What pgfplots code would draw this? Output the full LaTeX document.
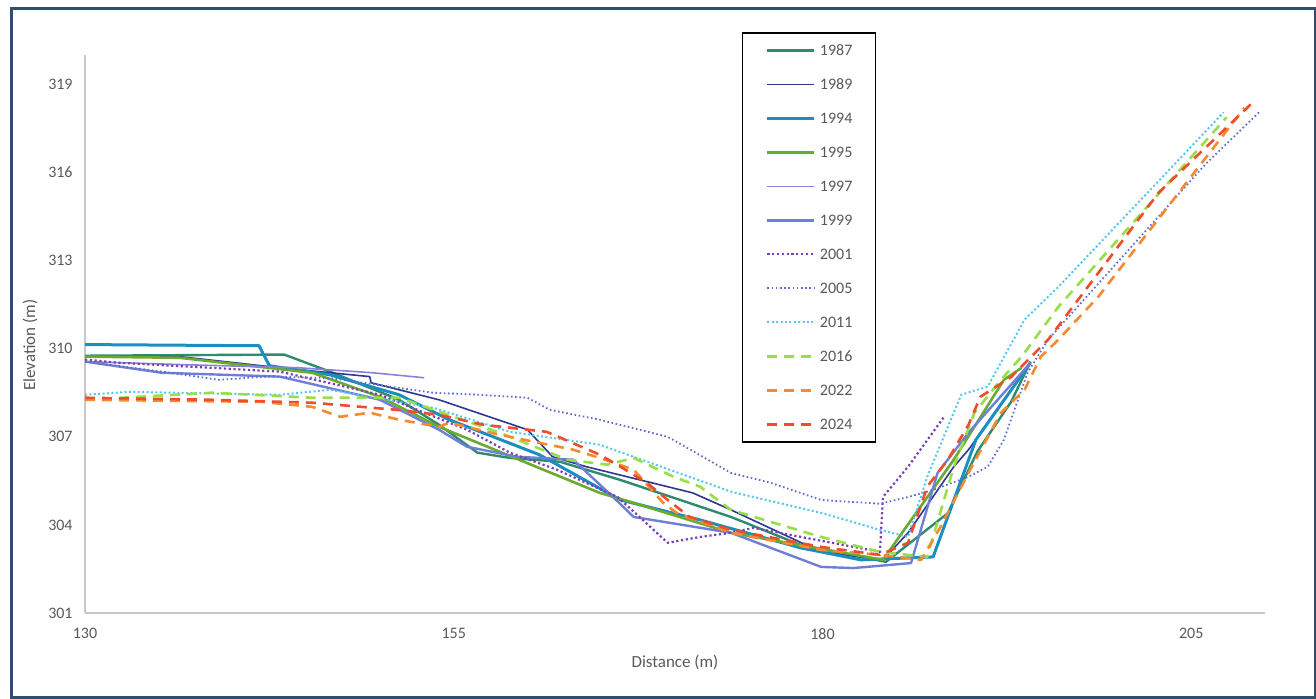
\documentclass[border=0pt]{standalone}
\usepackage{fontspec}
\setmainfont{Carlito}
\usepackage{pgfplots}
\pgfplotsset{compat=1.18}

\definecolor{frame}{HTML}{2F4F6E}
\definecolor{axgray}{HTML}{C8C8C8}
\definecolor{tickgray}{HTML}{595959}
\definecolor{c87}{HTML}{2E8C6E}
\definecolor{c89}{HTML}{2B3990}
\definecolor{c94}{HTML}{1B8EC0}
\definecolor{c95}{HTML}{6AAB2F}
\definecolor{c97}{HTML}{8A7FDB}
\definecolor{c99}{HTML}{6E7FD8}
\definecolor{c01}{HTML}{7B3FB5}
\definecolor{c05}{HTML}{5E6ECF}
\definecolor{c11}{HTML}{57C5F0}
\definecolor{c16}{HTML}{98DE48}
\definecolor{c22}{HTML}{F68A2E}
\definecolor{c24}{HTML}{F04D2D}

\begin{document}
\begin{tikzpicture}
\useasboundingbox (0,0) rectangle (658pt,-349.5pt);
\draw[line width=1.5pt, frame] (5.5pt,-4.5pt) rectangle (657.5pt,-348.5pt);

\begin{axis}[
  at={(42.5pt,-306.5pt)}, anchor=south west,
  scale only axis, width=590pt, height=279pt,
  xmin=130, xmax=210, ymin=301, ymax=320,
  xtick={130,155,180,205},
  ytick={301,304,...,319},
  axis x line*=bottom, axis y line*=left,
  axis line style={-, draw=axgray, line width=1pt},
  major tick length=0pt,
  /pgf/number format/assume math mode=true,
  ticklabel style={font=\fontsize{8}{9.6}\selectfont, text=tickgray, inner sep=0pt},
  yticklabel style={xshift=-6pt},
  xticklabel style={yshift=-7.5pt},
  xlabel={Distance (m)}, ylabel={Elevation (m)},
  label style={font=\fontsize{8.5}{10}\selectfont, text=tickgray},
  xlabel style={at={(axis description cs:0.5,-0.0878)}, anchor=center},
  ylabel style={at={(axis description cs:-0.0466,0.48)}, anchor=center},
  no markers,
  every axis plot/.append style={line join=round},
  legend cell align=left,
  legend style={at={(axis description cs:0.5568,1.041)}, anchor=north west,
    draw=black, line width=0.7pt, inner xsep=11.6pt, inner ysep=6.25pt,
    row sep=12pt, column sep=2pt, text=tickgray,
    font=\fontsize{8}{9.6}\selectfont,
    nodes={inner sep=0pt, text height=5pt, text depth=0pt}},
  legend image code/.code={\draw[#1] (0pt,0pt) -- (23.5pt,0pt);},
]

% 1987
\addplot[c87, line width=1.2pt] coordinates {
 (130,309.76) (143.5,309.8) (146.6,309.22) (151.3,308.26) (154.0,307.41)
 (156.6,306.46) (158.8,306.28) (162.2,306.15) (166.3,305.53) (173.8,304.27)
 (178.5,303.32) (184.3,302.74) (188.5,304.4) (190.5,306.5) (192.8,308.2) (194.1,309.56)
};
\addlegendentry{1987}

% 1989
\addplot[c89, line width=0.8pt] coordinates {
 (130,309.73) (136.4,309.73) (143.2,309.35) (149.3,309.05) (149.4,308.84)
 (154.0,308.26) (160.0,307.24) (161.7,306.32) (164.0,305.98) (171.2,305.09)
 (173.8,304.51) (179.9,303.08) (184.1,302.81) (185.8,303.73) (188.9,305.98)
 (189.9,306.56) (194.1,309.52)
};
\addlegendentry{1989}

% 1994
\addplot[c94, line width=1.5pt] coordinates {
 (130,310.14) (141.8,310.10) (142.5,309.42) (146.6,309.11) (151.3,308.43)
 (154.7,307.58) (160.8,306.39) (166.3,304.85) (171.7,304.17) (178.5,303.22)
 (182.6,302.81) (187.5,302.91) (190.4,306.90) (194.1,309.52)
};
\addlegendentry{1994}

% 1995
\addplot[c95, line width=1.3pt] coordinates {
 (130,309.73) (136.4,309.69) (145.4,309.18) (150.0,308.36) (154.0,307.34)
 (164.9,305.09) (167.2,304.75) (173.8,303.73) (184.1,302.81) (188.9,306.22)
 (192.3,308.94) (193.5,309.35)
};
\addlegendentry{1995}

% 1997
\addplot[c97, line width=0.8pt] coordinates {
 (130,309.56) (136.4,309.46) (144.5,309.35) (149.5,309.18) (153.0,309.01)
};
\addlegendentry{1997}

% 1999
\addplot[c99, line width=1.2pt] coordinates {
 (130,309.56) (135.2,309.18) (143.2,309.05) (150.0,308.26) (154.0,307.24)
 (155.9,306.66) (159.3,306.32) (163.1,306.22) (165.8,304.95) (167.2,304.27)
 (173.8,303.73) (179.9,302.57) (182.1,302.53) (186.0,302.70) (187.8,305.77)
 (189.9,307.14) (194.1,309.52)
};
\addlegendentry{1999}

% 2001
\addplot[c01, line width=1.1pt, dash pattern=on 1.1pt off 1.3pt] coordinates {
 (130,309.63) (132.3,309.52) (143.2,309.22) (150.0,308.43) (155.9,307.24)
 (158.8,306.46) (162.0,305.88) (166.1,304.95) (167.6,304.27) (169.5,303.39)
 (171.7,303.59) (173.8,303.73) (175.3,303.90) (183.9,303.08) (184.1,304.95)
 (185.8,305.98) (188.2,307.65)
};
\addlegendentry{2001}

% 2005
\addplot[c05, line width=0.9pt, dash pattern=on 0.8pt off 1.3pt] coordinates {
 (130,309.56) (135.2,309.22) (139.1,308.94) (142.3,309.05) (146.6,309.0)
 (153.6,308.5) (156.8,308.43) (160.0,308.33) (161.5,307.92) (164.9,307.58)
 (169.5,307.0) (173.8,305.77) (176.5,305.43) (179.9,304.85) (183.9,304.72)
 (185.8,304.95) (187.5,305.19) (189.9,305.64) (191.2,305.98) (192.3,306.90)
 (193.9,309.18) (195.3,310.31) (202.3,314.23) (206.0,316.3) (209.6,318.05)
};
\addlegendentry{2005}

% 2011
\addplot[c11, line width=1pt, dash pattern=on 1pt off 1.2pt] coordinates {
 (130,308.43) (133.0,308.53) (143.2,308.43) (146.6,308.6) (153.6,307.99)
 (158.8,307.17) (164.9,306.73) (173.8,305.13) (179.9,304.41) (183.9,303.83)
 (185.8,303.59) (187.1,305.64) (189.4,308.43) (191.2,308.71) (193.7,310.99)
 (196.0,312.11) (207.2,318.05)
};
\addlegendentry{2011}

% 2016
\addplot[c16, line width=1.3pt, dash pattern=on 5pt off 3.5pt] coordinates {
 (130,308.26) (138.6,308.5) (145.4,308.33) (151.3,308.33) (158.1,307.14)
 (162.7,306.22) (165.4,306.05) (167.2,306.28) (169.9,305.64) (171.7,305.30)
 (173.8,304.51) (179.9,303.59) (183.9,303.08) (187.1,302.91) (188.9,305.98)
 (190.3,307.82) (192.1,308.94) (193.5,309.73) (196.0,311.43) (207.4,317.88)
};
\addlegendentry{2016}

% 2022
\addplot[c22, line width=1.3pt, dash pattern=on 5pt off 3.5pt] coordinates {
 (130,308.26) (142.0,308.19) (145.4,308.02) (147.3,307.68) (149.3,307.82)
 (151.3,307.58) (154.0,307.34) (154.7,307.48) (158.1,307.07) (163.1,306.56)
 (164.9,306.28) (167.2,305.88) (169.2,304.75) (170.1,304.41) (173.8,303.73)
 (179.9,303.15) (183.9,302.98) (186.7,302.81) (188.0,303.93) (189.9,305.77)
 (192.1,307.82) (193.7,308.6) (194.8,309.73) (196.0,310.31) (198.7,311.77)
 (208.6,318.2)
};
\addlegendentry{2022}

% 2024
\addplot[c24, line width=1.3pt, dash pattern=on 5pt off 3.5pt] coordinates {
 (130,308.33) (138.6,308.26) (145.4,308.16) (151.1,307.92) (154.0,307.75)
 (157.0,307.41) (161.3,307.17) (164.9,306.39) (166.3,305.98) (168.1,305.43)
 (169.5,304.85) (171.0,304.27) (173.8,303.83) (179.9,303.25) (183.9,302.98)
 (185.8,303.39) (187.1,305.3) (188.5,306.22) (189.9,307.41) (190.7,308.36)
 (192.8,309.04) (195.3,310.31) (202.8,315.32) (209.1,318.35)
};
\addlegendentry{2024}

\end{axis}
\end{tikzpicture}
\end{document}
